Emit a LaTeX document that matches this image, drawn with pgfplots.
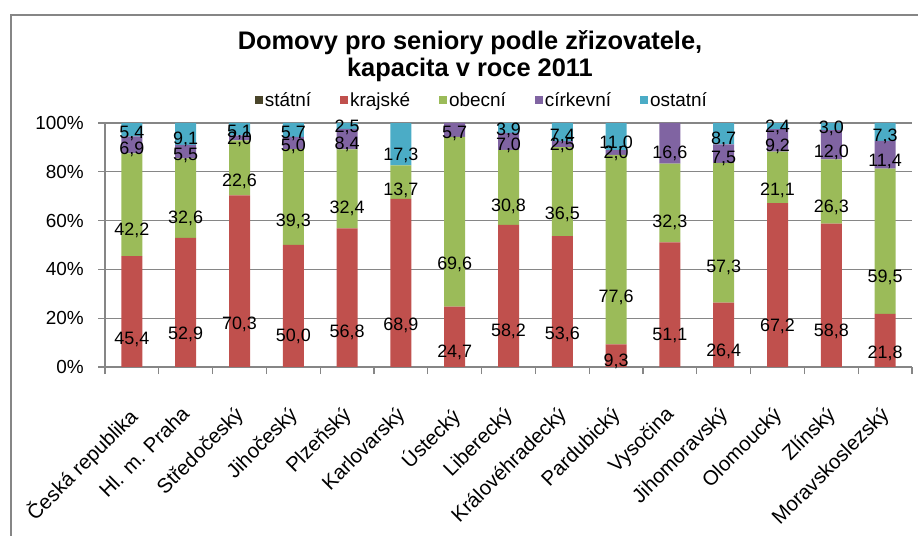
\documentclass[border=0pt]{standalone}
\usepackage{pgfplots}
\pgfplotsset{compat=1.18}
\usepackage{pgfplotstable}
\usepackage{fontspec}
\setmainfont{Liberation Sans}
\definecolor{cstat}{RGB}{74,69,42}
\definecolor{ckraj}{RGB}{192,80,77}
\definecolor{cobec}{RGB}{155,187,89}
\definecolor{ccirk}{RGB}{128,100,162}
\definecolor{cost}{RGB}{75,172,198}
\definecolor{cgrid}{RGB}{134,134,134}

\pgfplotstableread{
x statni krajske obecni cirkevni ostatni
0  0 45.4 42.2  6.9  5.4
1  0 52.9 32.6  5.5  9.1
2  0 70.3 22.6  2.0  5.1
3  0 50.0 39.3  5.0  5.7
4  0 56.8 32.4  8.4  2.5
5  0 68.9 13.7  0    17.3
6  0 24.7 69.6  5.7  0
7  0 58.2 30.8  7.0  3.9
8  0 53.6 36.5  2.5  7.4
9  0 9.3  77.6  2.0  11.0
10 0 51.1 32.3  16.6 0
11 0 26.4 57.3  7.5  8.7
12 0 67.2 21.1  9.2  2.4
13 0 58.8 26.3  12.0 3.0
14 0 21.8 59.5  11.4 7.3
}\data

\pgfplotsset{
  legsq/.style={legend image code/.code={\fill[##1] (0bp,-4bp) rectangle (8bp,4bp);}},
  lab/.style={draw=none, fill=none,
    visualization depends on={\thisrow{#1}\as\rawy},
    nodes near coords={\ifdim\rawy pt>0.01pt\pgfmathprintnumber[fixed,fixed zerofill,precision=1,use comma,assume math mode=true]{\rawy}\fi},
    every node near coord/.append style={anchor=center, yshift=-\rawy*0.61bp,
      font=\fontsize{18}{18}\selectfont, text=black, inner sep=0pt}},
  common/.style={scale only axis, width=807bp, height=244bp,
    at={(105bp,169bp)}, anchor=south west,
    xmin=-0.5, xmax=14.5, ymin=0, ymax=100,
    ybar stacked, bar width=21bp}
}

\begin{document}
\begin{tikzpicture}
\useasboundingbox (0bp,0bp) rectangle (918bp,536bp);
\draw[cgrid, line width=2.2bp] (11bp,-5bp) -- (11bp,521bp) -- (925bp,521bp);
\node[anchor=base, font=\fontsize{25.5}{27}\selectfont\bfseries] at (470bp,486bp) {Domovy pro seniory podle zřizovatele,};
\node[anchor=base, font=\fontsize{25.5}{27}\selectfont\bfseries] at (470bp,459bp) {kapacita v roce 2011};
\begin{axis}[common,
  /pgf/number format/assume math mode=true,
  axis x line*=bottom, axis y line*=left,
  axis line style={cgrid, line width=1.2bp, -},
  ytick={0,20,...,100}, yticklabels={0\%,20\%,40\%,60\%,80\%,100\%},
  ymajorgrids, grid style={cgrid, line width=1.2bp},
  tick align=outside, major tick length=7bp, minor tick length=7bp,
  y tick style={cgrid, line width=1.2bp},
  major x tick style={draw=none},
  minor x tick style={cgrid, line width=1.2bp},
  xtick={0,...,14},
  minor xtick={-0.5,0.5,...,14.5},
  xticklabels={Česká republika,Hl. m. Praha,Středočeský,Jihočeský,Plzeňský,Karlovarský,Ústecký,Liberecký,Královéhradecký,Pardubický,Vysočina,Jihomoravský,Olomoucký,Zlínský,Moravskoslezský},
  xticklabel style={rotate=45, anchor=north east, font=\fontsize{20.5}{20.5}\selectfont, inner sep=0pt, xshift=-26bp, yshift=-18bp},
  yticklabel style={font=\fontsize{19}{19}\selectfont, inner sep=0pt, xshift=-14bp},
  legend columns=5,
  legend style={at={(0.467,1.094)}, anchor=center, draw=none, fill=none,
    font=\fontsize{19}{19}\selectfont,
    /tikz/every even column/.append style={column sep=27bp}},
]
\addplot[fill=cstat, draw=none, legsq] table[x=x,y=statni]{\data};
\addlegendentry{státní}
\addplot[fill=ckraj, draw=none, legsq] table[x=x,y=krajske]{\data};
\addlegendentry{krajské}
\addplot[fill=cobec, draw=none, legsq] table[x=x,y=obecni]{\data};
\addlegendentry{obecní}
\addplot[fill=ccirk, draw=none, legsq] table[x=x,y=cirkevni]{\data};
\addlegendentry{církevní}
\addplot[fill=cost, draw=none, legsq] table[x=x,y=ostatni]{\data};
\addlegendentry{ostatní}
\end{axis}
\begin{axis}[common, hide axis, clip=false]
\addplot[lab=statni] table[x=x,y=statni]{\data};
\addplot[lab=krajske] table[x=x,y=krajske]{\data};
\addplot[lab=obecni] table[x=x,y=obecni]{\data};
\addplot[lab=cirkevni] table[x=x,y=cirkevni]{\data};
\addplot[lab=ostatni] table[x=x,y=ostatni]{\data};
\end{axis}
\end{tikzpicture}
\end{document}
